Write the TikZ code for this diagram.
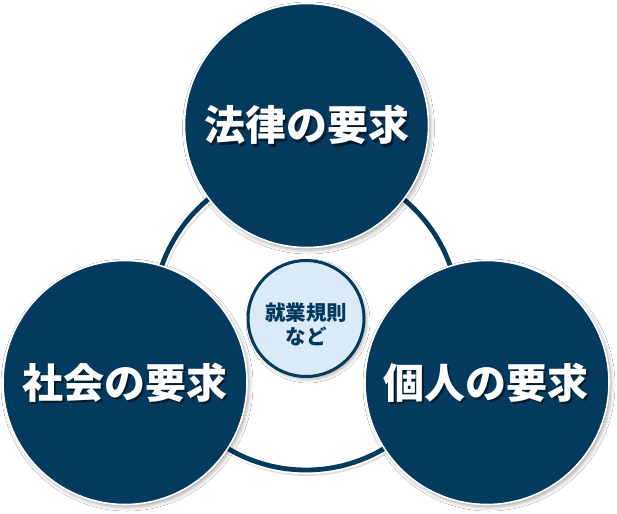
\documentclass[tikz,border=0pt]{standalone}
\usepackage{fontspec}
\newfontfamily\jp{Noto Sans CJK JP}
\usetikzlibrary{shadows.blur}
\definecolor{navy}{RGB}{3,58,94}
\definecolor{paleblue}{RGB}{218,234,247}
\begin{document}
\begin{tikzpicture}[x=1pt,y=-1pt,
  bigcirc/.style={circle, fill=navy, draw=white, line width=1.6pt, minimum size=244pt, inner sep=0pt,
    blur shadow={shadow xshift=2pt, shadow yshift=-2.5pt, shadow blur radius=4pt, shadow opacity=35}},
  bigtext/.style={text=white, font=\jp\bfseries\fontsize{41}{41}\selectfont, anchor=base, inner sep=0pt},
  bigtextshadow/.style={text=black, opacity=0.5, font=\jp\bfseries\fontsize{41}{41}\selectfont, anchor=base, inner sep=0pt},
  ringline/.style={draw=navy, line width=4.8pt},
  ringedge/.style={draw=white, line width=8.5pt},
  ringshade/.style={draw=black!35, line width=7pt, opacity=0.35},
  smallcirc/.style={circle, fill=paleblue, draw=navy, line width=3pt, minimum size=116pt, inner sep=0pt,
    preaction={draw=white, line width=6.5pt},
    blur shadow={shadow xshift=2pt, shadow yshift=-2.5pt, shadow blur radius=4pt, shadow opacity=35}},
  smalltext/.style={text=navy, font=\jp\bfseries\fontsize{20.5}{24}\selectfont, align=center, inner sep=0pt}
]
\useasboundingbox[fill=white] (0,0) rectangle (617,513);

% ring behind everything
\node[circle, minimum size=306pt, inner sep=0pt] (ring) at (306,317) {};
\draw[ringshade] ([shift={(1.5,2.5)}]ring.center) circle[radius=153pt];
\draw[ringedge] (ring.center) circle[radius=153pt];
\draw[ringline] (ring.center) circle[radius=153pt];

% centre circle
\node[smallcirc] (rules) at (306,318.5) {};
\node[smalltext] (rulestext) at (rules.center) [yshift=-5.5pt] {就業規則\\など};

% three big circles
\node[bigcirc] (law) at (306.5,125.5) {};
\node[bigcirc] (society) at (125,382.5) {};
\node[bigcirc] (indiv) at (487,382.5) {};

\node[bigtextshadow] (lawshadow) at (308.5,143) {法律の要求};
\node[bigtext] (lawtext) at (306.5,141) {法律の要求};
\node[bigtextshadow] (socshadow) at (127,400) {社会の要求};
\node[bigtext] (soctext) at (125,398) {社会の要求};
\node[bigtextshadow] (indshadow) at (488,400) {個人の要求};
\node[bigtext] (indtext) at (486,398) {個人の要求};
\end{tikzpicture}
\end{document}
